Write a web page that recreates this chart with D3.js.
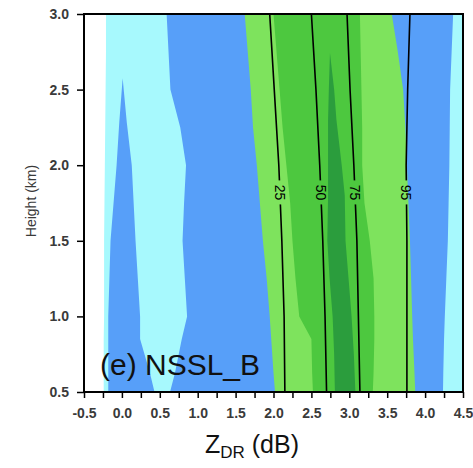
<!DOCTYPE html>
<html>
<head>
<meta charset="utf-8">
<script src="https://cdn.jsdelivr.net/npm/d3@7"></script>
<style>
  html, body { margin: 0; padding: 0; background: #ffffff; }
  svg { display: block; }
</style>
</head>
<body>
<svg id="chart" width="473" height="468"></svg>
<script>
// ---------------- DATA ----------------
// Common height grid (km)
const heights = [0.5, 0.625, 0.85, 1.0, 1.25, 1.5, 1.75, 2.0, 2.25, 2.5, 2.75, 3.0];
// Left edge of data (white -> cyan), ZDR (dB)
const dataLeft = [-0.24, -0.24, -0.24, -0.235, -0.235, -0.235, -0.23, -0.225, -0.22, -0.215, -0.21, -0.21];
// Main blue band: left edge (cyan -> blue) and right edge (blue -> cyan)
const blueLeft  = [0.635, 0.70, 0.79, 0.86, 0.83, 0.80, 0.82, 0.846, 0.77, 0.64, 0.615, 0.59];
const blueRight = [4.236, 4.24, 4.25, 4.26, 4.28, 4.30, 4.31, 4.32, 4.325, 4.33, 4.35, 4.37];
// Light green band
const lgLeft  = [2.02, 2.00, 1.97, 1.95, 1.91, 1.86, 1.82, 1.78, 1.73, 1.70, 1.66, 1.62];
const lgRight = [3.87, 3.86, 3.84, 3.83, 3.815, 3.80, 3.78, 3.76, 3.74, 3.71, 3.64, 3.56];
// Medium green band
const mgLeft  = [2.52, 2.51, 2.50, 2.34, 2.29, 2.25, 2.22, 2.17, 2.12, 2.08, 2.04, 2.00];
const mgRight = [3.31, 3.32, 3.33, 3.33, 3.32, 3.27, 3.20, 3.17, 3.17, 3.16, 3.15, 3.14];
// Blue spike inside the left cyan band
const spikeHeights = [0.5, 0.625, 0.85, 1.0, 1.25, 1.5, 2.0, 2.28, 2.575];
const spikeLeft  = [-0.18, -0.18, -0.18, -0.18, -0.165, -0.15, -0.07, -0.035, 0.01];
const spikeRight = [0.43, 0.37, 0.24, 0.24, 0.21, 0.18, 0.13, 0.065, 0.01];
// Dark green core
const darkHeights = [0.5, 0.75, 1.0, 1.25, 1.5, 1.8, 2.0, 2.3, 2.5, 2.742];
const darkLeft  = [2.81, 2.80, 2.78, 2.74, 2.71, 2.72, 2.72, 2.72, 2.73, 2.745];
const darkRight = [3.08, 3.06, 3.03, 2.99, 2.95, 2.94, 2.90, 2.83, 2.80, 2.745];
// Percentile lines
const lineHeights = [0.5, 1.0, 1.5, 2.0, 2.5, 3.0];
const p25 = [2.15, 2.14, 2.11, 2.07, 2.01, 1.95];
const p50 = [2.70, 2.68, 2.65, 2.61, 2.56, 2.50];
const p75 = [3.14, 3.12, 3.10, 3.06, 3.01, 2.97];
const p95 = [3.76, 3.76, 3.76, 3.75, 3.77, 3.80];
const percentileLabels = ["25", "50", "75", "95"];
const labelHeight = 1.82;
// Axis ticks
const xTickLabels = [-0.5, 0.0, 0.5, 1.0, 1.5, 2.0, 2.5, 3.0, 3.5, 4.0, 4.5];
const xMinorTicks = d3.range(-0.5, 4.5001, 0.25);
const yTickLabels = [0.5, 1.0, 1.5, 2.0, 2.5, 3.0];

// ---------------- STYLE ----------------
const colors = {
  cyan: "#a7f9fd",
  blue: "#579ff9",
  lightGreen: "#7ee35d",
  midGreen: "#4dc83f",
  darkGreen: "#2b9d3d"
};

const svg = d3.select("#chart");
const pL = 84, pR = 463, pT = 14, pB = 392;
const x = d3.scaleLinear().domain([-0.5, 4.5]).range([pL, pR]);
const y = d3.scaleLinear().domain([0.5, 3.0]).range([pB, pT]);
const fmt = v => v.toFixed(1);

const defs = svg.append("defs");
defs.append("clipPath").attr("id", "plotclip")
  .append("rect").attr("x", pL).attr("y", pT).attr("width", pR - pL).attr("height", pB - pT);

const g = svg.append("g").attr("clip-path", "url(#plotclip)");

function band(hs, l, r) {
  return hs.map((h, i) => ({ h: h, l: l[i], r: r[i] }));
}
const area = d3.area().y(d => y(d.h)).x0(d => x(d.l)).x1(d => x(d.r));

g.append("path").attr("d", area(band(heights, dataLeft, heights.map(() => 4.5)))).attr("fill", colors.cyan);
g.append("path").attr("d", area(band(heights, blueLeft, blueRight))).attr("fill", colors.blue);
g.append("path").attr("d", area(band(spikeHeights, spikeLeft, spikeRight))).attr("fill", colors.blue);
g.append("path").attr("d", area(band(heights, lgLeft, lgRight))).attr("fill", colors.lightGreen);
g.append("path").attr("d", area(band(heights, mgLeft, mgRight))).attr("fill", colors.midGreen);
g.append("path").attr("d", area(band(darkHeights, darkLeft, darkRight))).attr("fill", colors.darkGreen);

// percentile lines with label gaps
const pcts = [p25, p50, p75, p95];
const interp = (arr, h) => d3.scaleLinear().domain(lineHeights).range(arr)(h);
const mask = defs.append("mask").attr("id", "labelmask").attr("maskUnits", "userSpaceOnUse")
  .attr("x", 0).attr("y", 0).attr("width", 473).attr("height", 468);
mask.append("rect").attr("x", 0).attr("y", 0).attr("width", 473).attr("height", 468).attr("fill", "white");
pcts.forEach(arr => {
  const cx = x(interp(arr, labelHeight)), cy = y(labelHeight);
  mask.append("rect").attr("x", cx - 8).attr("y", cy - 12).attr("width", 16).attr("height", 24).attr("fill", "black");
});
const line = d3.line().x(d => x(d.v)).y(d => y(d.h));
const lg = g.append("g").attr("mask", "url(#labelmask)");
pcts.forEach(arr => {
  lg.append("path")
    .attr("d", line(lineHeights.map((h, i) => ({ h: h, v: arr[i] }))))
    .attr("fill", "none").attr("stroke", "#000").attr("stroke-width", 1.6);
});
pcts.forEach((arr, i) => {
  const cx = x(interp(arr, labelHeight)), cy = y(labelHeight);
  g.append("text")
    .attr("transform", `translate(${cx},${cy}) rotate(90)`)
    .attr("text-anchor", "middle").attr("dy", "0.36em")
    .attr("font-family", "Liberation Sans, Arial, sans-serif")
    .attr("font-size", 14).attr("fill", "#000")
    .text(percentileLabels[i]);
});

// panel label
svg.append("text").attr("x", 100).attr("y", 375)
  .attr("font-family", "Liberation Sans, Arial, sans-serif")
  .attr("font-size", 30).attr("fill", "#111")
  .text("(e) NSSL_B");

// frame
svg.append("rect").attr("x", pL).attr("y", pT).attr("width", pR - pL).attr("height", pB - pT)
  .attr("fill", "none").attr("stroke", "#000").attr("stroke-width", 2);

// x axis
const xAxis = d3.axisBottom(x).tickValues(xMinorTicks).tickSize(6).tickFormat("");
const xg = svg.append("g").attr("transform", `translate(0,${pB})`).call(xAxis);
xg.select(".domain").remove();
xg.selectAll(".tick line").attr("stroke", "#000").attr("stroke-width", 1.5);
const xl = d3.axisBottom(x).tickValues(xTickLabels).tickSize(0).tickPadding(0).tickFormat(fmt);
const xlg = svg.append("g").attr("transform", `translate(0,${pB})`).call(xl);
xlg.select(".domain").remove();
xlg.selectAll("text").attr("y", 26).attr("dy", null)
  .attr("font-family", "Liberation Sans, Arial, sans-serif").attr("font-size", 14)
  .attr("font-weight", "bold").attr("fill", "#3a3a3a");

// y axis
const yAxis = d3.axisLeft(y).tickValues(yTickLabels).tickSize(7).tickPadding(8).tickFormat(fmt);
const yg = svg.append("g").attr("transform", `translate(${pL},0)`).call(yAxis);
yg.select(".domain").remove();
yg.selectAll(".tick line").attr("stroke", "#000").attr("stroke-width", 1.5);
yg.selectAll("text")
  .attr("font-family", "Liberation Sans, Arial, sans-serif").attr("font-size", 14)
  .attr("font-weight", "bold").attr("fill", "#3a3a3a");

// axis titles
svg.append("text")
  .attr("transform", "translate(36,201) rotate(-90)")
  .attr("text-anchor", "middle")
  .attr("font-family", "Liberation Sans, Arial, sans-serif").attr("font-size", 14)
  .attr("fill", "#3a3a3a")
  .text("Height (km)");

const xt = svg.append("text").attr("x", 252).attr("y", 453).attr("text-anchor", "middle")
  .attr("font-family", "Liberation Sans, Arial, sans-serif").attr("font-size", 25).attr("fill", "#111");
xt.append("tspan").text("Z");
xt.append("tspan").attr("font-size", 17).attr("dy", 5).text("DR");
xt.append("tspan").attr("dy", -5).text(" (dB)");
</script>
</body>
</html>
